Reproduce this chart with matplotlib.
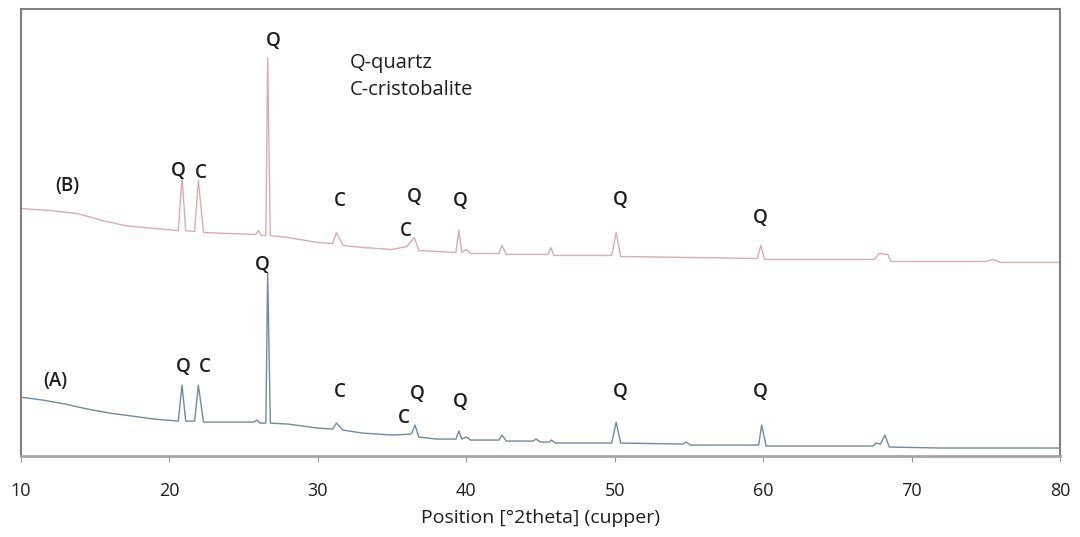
import matplotlib
matplotlib.use("Agg")
import matplotlib.pyplot as plt

# XRD patterns (intensity in arbitrary units)
theta_a = [10.0, 11.5, 13.0, 14.5, 16.0, 17.5, 19.0, 20.6, 20.85, 21.1, 21.7, 21.95, 22.3,
           24.0, 25.7, 25.9, 26.1, 26.5, 26.62, 26.8, 28.0, 30.0, 31.0, 31.25, 31.7, 33.0,
           35.0, 36.3, 36.55, 36.8, 38.0, 39.3, 39.5, 39.7, 40.0, 40.3, 42.2, 42.4, 42.7,
           44.5, 44.7, 45.0, 45.6, 45.75, 46.0, 49.8, 50.1, 50.4, 54.6, 54.8, 55.1, 59.7,
           59.9, 60.2, 67.4, 67.6, 67.9, 68.2, 68.5, 72.0, 80.0]
int_a = [59, 56, 52, 47, 43, 40, 37, 35, 71, 35, 35, 71, 34,
         34, 34, 36, 33, 33, 184, 33, 32, 28, 27, 33, 26, 23,
         21, 22, 31, 19, 17, 17, 25, 17, 19, 16, 16, 21, 15,
         15, 17, 14, 14, 16, 13, 13, 34, 13, 12, 14, 11, 11,
         31, 10, 10, 13, 12, 21, 9, 8, 8]

theta_b = [10.0, 12.0, 13.8, 15.5, 17.0, 19.0, 20.6, 20.85, 21.1, 21.7, 21.95, 22.3, 24.0,
           25.8, 26.0, 26.2, 26.5, 26.62, 26.8, 28.0, 30.0, 31.0, 31.25, 31.7, 33.0, 35.0,
           36.0, 36.5, 36.8, 38.0, 39.3, 39.5, 39.7, 40.0, 40.3, 42.2, 42.4, 42.7, 45.5,
           45.7, 45.9, 49.8, 50.1, 50.4, 55.0, 59.6, 59.85, 60.1, 67.5, 67.8, 68.4, 68.6,
           75.0, 75.5, 76.0, 80.0]
int_b = [248, 246, 243, 236, 231, 228, 226, 279, 226, 225, 276, 224, 223,
         222, 226, 221, 221, 399, 221, 219, 214, 213, 224, 211, 209, 207,
         210, 219, 206, 205, 204, 226, 204, 207, 203, 203, 211, 202, 202,
         209, 201, 201, 224, 200, 199, 198, 211, 197, 197, 203, 202, 195,
         195, 197, 194, 194]

# phase labels: (text, x, y)
lab_b = ["(B)", "Q", "C", "Q", "C", "Q", "C", "Q", "Q", "Q"]
lab_b_x = [13.1, 20.6, 22.13, 26.98, 31.49, 36.48, 35.94, 39.58, 50.36, 59.79]
lab_b_y = [271, 286, 284, 416, 256, 260, 226, 256, 257, 239]
lab_a = ["(A)", "Q", "C", "Q", "C", "Q", "C", "Q", "Q", "Q"]
lab_a_x = [12.29, 20.91, 22.4, 26.24, 31.49, 36.68, 35.8, 39.58, 50.36, 59.79]
lab_a_y = [75, 89, 89, 191, 64, 62, 38, 54, 64, 64]

xticks = [10, 20, 30, 40, 50, 60, 70, 80]

plt.rcParams['font.family'] = ['Open Sans', 'DejaVu Sans']

fig = plt.figure(figsize=(10.8, 5.37), dpi=100)
ax = fig.add_axes([0.0194, 0.1508, 0.9621, 0.8324])

ax.plot(theta_b, int_b, color="#dcaab0", lw=1.0)
ax.plot(theta_a, int_a, color="#6f89a6", lw=1.0)

for t, x, y in zip(lab_b, lab_b_x, lab_b_y):
    ax.text(x, y, t, ha="center", va="center", fontsize=13.5, fontweight="semibold", color="#1e1e1e")
for t, x, y in zip(lab_a, lab_a_x, lab_a_y):
    ax.text(x, y, t, ha="center", va="center", fontsize=13.5, fontweight="semibold", color="#1e1e1e")

ax.text(32.17, 394, "Q-quartz", ha="left", va="center", fontsize=14.5, color="#1e1e1e")
ax.text(32.17, 367, "C-cristobalite", ha="left", va="center", fontsize=14.5, color="#1e1e1e")

ax.set_xlim(10, 80)
ax.set_ylim(0, 448)
ax.set_xticks(xticks)
ax.set_yticks([])
ax.tick_params(axis="x", direction="out", length=4, color="#999999", pad=15)
for lbl in ax.get_xticklabels():
    lbl.set_fontsize(13)
    lbl.set_color("#1e1e1e")
for s in ax.spines.values():
    s.set_color("#7f7f7f")
    s.set_linewidth(1.5)
ax.spines["bottom"].set_color("#a6a6a6")
ax.spines["bottom"].set_linewidth(2)

ax.set_xlabel("Position [°2theta] (cupper)", fontsize=14, color="#1e1e1e", labelpad=6)

fig.savefig("out.png", dpi=100)
